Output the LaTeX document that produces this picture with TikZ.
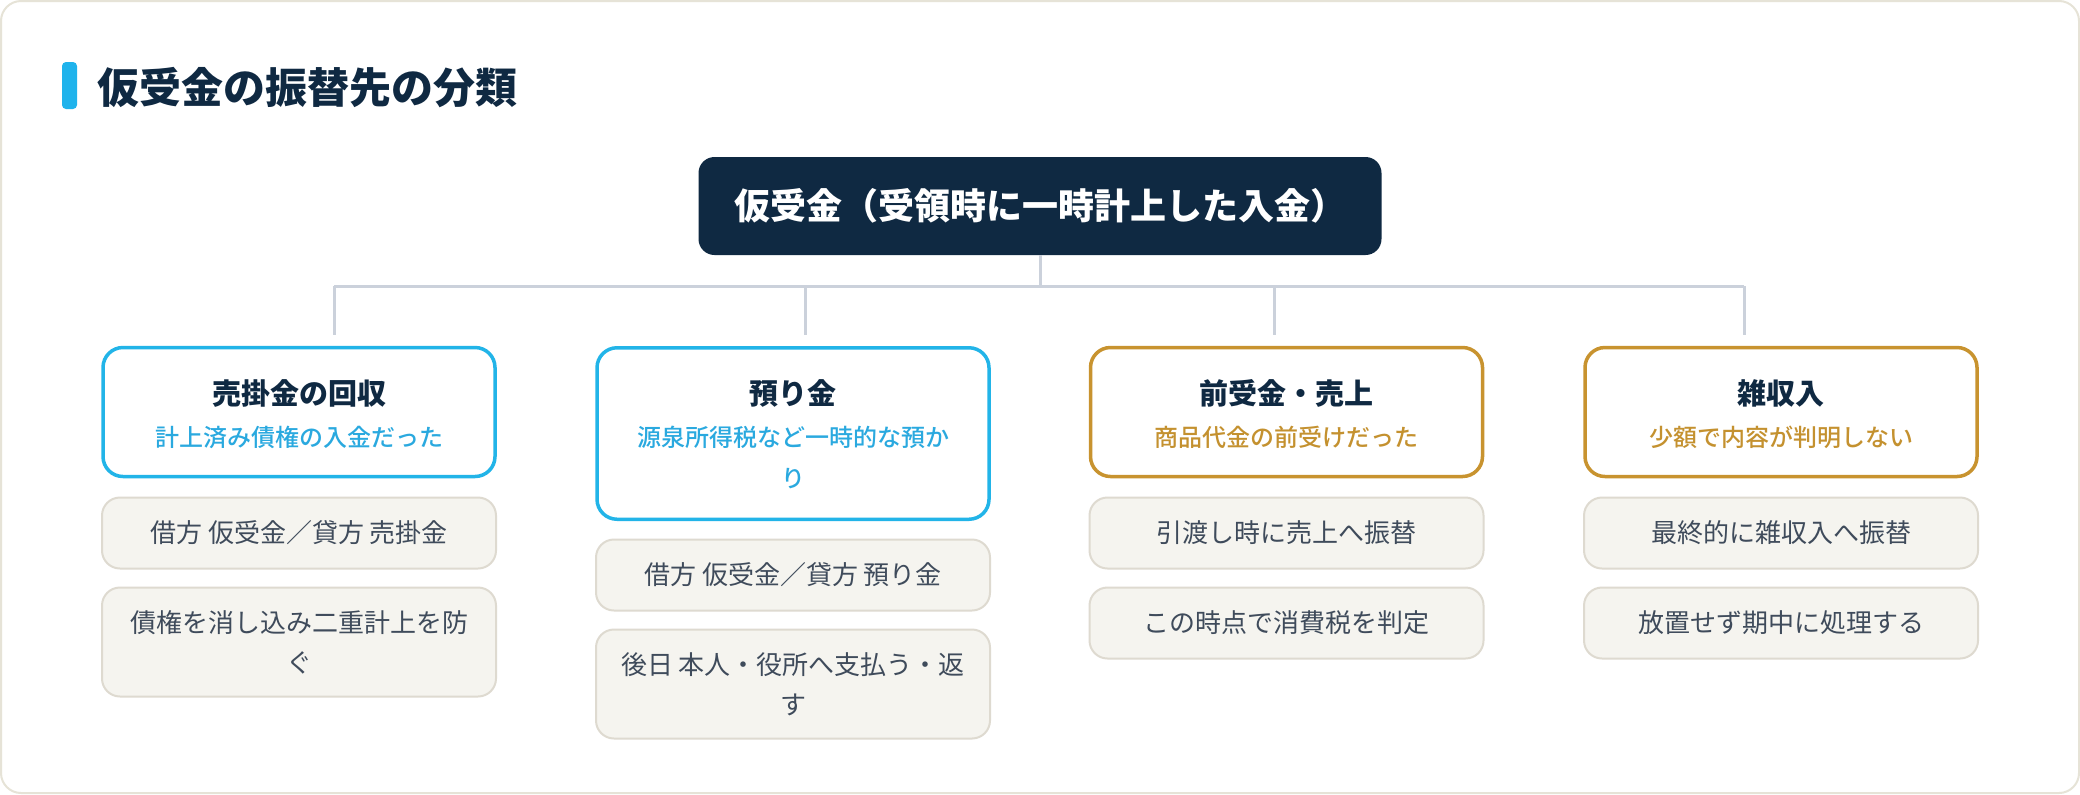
\documentclass[tikz,border=0pt]{standalone}
\usepackage{fontspec}
\setmainfont{Noto Sans CJK JP}
\newfontfamily\medfont{Noto Sans CJK JP Medium}
\definecolor{navy}{HTML}{0F2942}
\definecolor{cyanb}{HTML}{22B4E8}
\definecolor{cyant}{HTML}{2AA9DF}
\definecolor{goldb}{HTML}{C8932F}
\definecolor{goldt}{HTML}{C4912F}
\definecolor{itemf}{HTML}{F5F4EF}
\definecolor{itemb}{HTML}{DEDAD0}
\definecolor{itemt}{HTML}{3F4B5B}
\definecolor{connc}{HTML}{CBD1DB}
\definecolor{framec}{HTML}{E6E3D7}
\definecolor{accent}{HTML}{1FB3EC}
\begin{document}
\begin{tikzpicture}[x=0.5pt,y=-0.5pt,
  frame/.style={draw=framec,line width=1pt,rounded corners=10pt,fill=white},
  rootbox/.style={fill=navy,text=white,rounded corners=8pt,minimum width=341.5pt,minimum height=49pt,inner sep=0pt,font=\bfseries\fontsize{18pt}{22pt}\selectfont},
  hbox/.style={fill=white,line width=1.75pt,rounded corners=10pt,minimum width=196pt,inner sep=0pt},
  htitle/.style={text=navy,inner sep=0pt,font=\bfseries\fontsize{14.5pt}{18pt}\selectfont},
  hsub/.style={inner sep=0pt,align=center,font=\medfont\fontsize{12pt}{20.5pt}\selectfont},
  ibox/.style={draw=itemb,fill=itemf,line width=1pt,rounded corners=9pt,minimum width=197pt,text=itemt,align=center,inner sep=0pt,font=\fontsize{13pt}{20pt}\selectfont},
  conn/.style={draw=connc,line width=1.5pt}
]
\useasboundingbox (0,0) rectangle (2080,794);
\draw[frame] (1,1) rectangle (2079,793);
% title
\fill[accent,rounded corners=2pt] (62,62) rectangle (77,109);
\node[anchor=west,inner sep=0pt,text=navy,font=\bfseries\fontsize{21pt}{24pt}\selectfont] (title) at (97,88) {仮受金の振替先の分類};
% root
\node[rootbox] (root) at (1040,206) {仮受金（受領時に一時計上した入金）};
% connectors
\coordinate (j) at (1040,286);
\coordinate (t1) at (334,286);
\coordinate (t2) at (805,286);
\coordinate (t3) at (1274,286);
\coordinate (t4) at (1744,286);
\coordinate (d1) at (334,335);
\coordinate (d2) at (805,335);
\coordinate (d3) at (1274,335);
\coordinate (d4) at (1744,335);
\draw[conn] (root.south) -- (j);
\draw[conn] (t1) -- (t4);
\draw[conn] (t1) -- (d1);
\draw[conn] (t2) -- (d2);
\draw[conn] (t3) -- (d3);
\draw[conn] (t4) -- (d4);
% headers
\node[hbox,draw=cyanb,minimum height=64.5pt] (h1) at (299,412) {};
\node[hbox,draw=cyanb,minimum height=85.75pt] (h2) at (793,433.5) {};
\node[hbox,draw=goldb,minimum height=64.5pt] (h3) at (1286.5,412) {};
\node[hbox,draw=goldb,minimum height=64.5pt] (h4) at (1781,412) {};
\node[htitle] (h1t) at (299,393) {売掛金の回収};
\node[htitle] (h2t) at (793,393) {預り金};
\node[htitle] (h3t) at (1286.5,393) {前受金・売上};
\node[htitle] (h4t) at (1781,393) {雑収入};
\node[hsub,text=cyant] (h1s) at (299,437) {計上済み債権の入金だった};
\node[hsub,text=cyant] (h2s) at (793,457.5) {源泉所得税など一時的な預か\\り};
\node[hsub,text=goldt] (h3s) at (1286.5,437) {商品代金の前受けだった};
\node[hsub,text=goldt] (h4s) at (1781,437) {少額で内容が判明しない};
% items
\node[ibox,minimum height=35.5pt] (a1) at (299,533) {借方 仮受金／貸方 売掛金};
\node[ibox,minimum height=54.5pt] (a2) at (299,642) {債権を消し込み二重計上を防\\ぐ};
\node[ibox,minimum height=35.5pt] (b1) at (793,575) {借方 仮受金／貸方 預り金};
\node[ibox,minimum height=54.5pt] (b2) at (793,684) {後日 本人・役所へ支払う・返\\す};
\node[ibox,minimum height=35.5pt] (c1) at (1286.5,533) {引渡し時に売上へ振替};
\node[ibox,minimum height=35.5pt] (c2) at (1286.5,623) {この時点で消費税を判定};
\node[ibox,minimum height=35.5pt] (e1) at (1781,533) {最終的に雑収入へ振替};
\node[ibox,minimum height=35.5pt] (e2) at (1781,623) {放置せず期中に処理する};
\end{tikzpicture}
\end{document}
